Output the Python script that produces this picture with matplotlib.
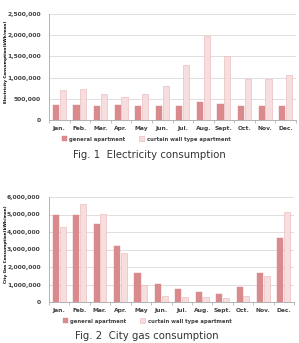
import numpy as np
import matplotlib.pyplot as plt
from matplotlib.ticker import FuncFormatter

months = ['Jan.', 'Feb.', 'Mar.', 'Apr.', 'May', 'Jun.', 'Jul.', 'Aug.', 'Sept.', 'Oct.', 'Nov.', 'Dec.']
series = ['general apartment', 'curtain wall type apartment']

elec_general = [360000, 360000, 340000, 345000, 320000, 330000, 340000, 420000, 370000, 320000, 340000, 340000]
elec_curtain = [700000, 720000, 610000, 540000, 610000, 810000, 1290000, 1990000, 1520000, 960000, 970000, 1050000]

gas_general = [4950000, 5000000, 4450000, 3200000, 1650000, 1020000, 750000, 550000, 480000, 870000, 1680000, 3630000]
gas_curtain = [4300000, 5600000, 5020000, 2780000, 960000, 350000, 300000, 290000, 250000, 370000, 1500000, 5130000]

c_gen = '#d98a8c'
c_cur = '#f7dede'
e_cur = '#e8b4b6'
grid_c = '#d9d9d9'
txt_c = '#404040'

W, H = 299, 343
fig = plt.figure(figsize=(W / 100, H / 100), dpi=100)


def draw(ax, gen, cur, ymax, step, ylabel, leg_xy, width_px):
    x = np.arange(len(months))
    w = 0.3
    ax.bar(x - 0.165, gen, w, color=c_gen, edgecolor=c_gen, linewidth=0.3, zorder=3, label=series[0])
    ax.bar(x + 0.165, cur, w, color=c_cur, edgecolor=e_cur, linewidth=0.4, zorder=3, label=series[1])
    ax.set_xlim(-0.5, len(months) - 0.5)
    ax.set_ylim(0, ymax)
    ax.set_yticks(np.arange(0, ymax + 1, step))
    ax.yaxis.set_major_formatter(FuncFormatter(lambda v, p: f'{int(v):,}'))
    ax.grid(axis='y', color=grid_c, linewidth=0.6, zorder=0)
    for s in ['top', 'right']:
        ax.spines[s].set_visible(False)
    for s in ['left', 'bottom']:
        ax.spines[s].set_color('#a6a6a6')
        ax.spines[s].set_linewidth(0.6)
    ax.set_xticks(x)
    ax.set_xticklabels(months)
    ax.set_xticks(np.arange(-0.5, len(months), 1), minor=True)
    ax.tick_params(axis='x', which='major', length=0, pad=4)
    ax.tick_params(axis='x', which='minor', length=2, color='#a6a6a6', width=0.5)
    ax.tick_params(axis='y', length=0, pad=6)
    for lab in ax.get_xticklabels() + ax.get_yticklabels():
        lab.set_fontsize(4.3)
        lab.set_fontweight('bold')
        lab.set_color(txt_c)
    ax.set_ylabel(ylabel, fontsize=3.0, fontweight='bold', color='black', va='center')
    ax.yaxis.set_label_coords(-43 / width_px, 0.55)
    leg = ax.legend(loc='center left', bbox_to_anchor=leg_xy, bbox_transform=fig.transFigure,
                    ncol=2, frameon=False, prop={'size': 3.8, 'weight': 'bold'},
                    handlelength=0.9, handleheight=0.9, handletextpad=0.5,
                    columnspacing=2.6, borderpad=0, borderaxespad=0)
    for t in leg.get_texts():
        t.set_color(txt_c)


ax1 = fig.add_axes([49 / W, 1 - 120 / H, 247 / W, 106 / H])
draw(ax1, elec_general, elec_curtain, 2500000, 500000, 'Electricity Consumption(kWh/mon)',
     (62 / W, 1 - 139 / H), 247)

ax2 = fig.add_axes([49 / W, 1 - 302 / H, 245 / W, 105 / H])
draw(ax2, gas_general, gas_curtain, 6000000, 1000000, 'City Gas Consumption(kWh/mon)',
     (63 / W, 1 - 321 / H), 245)

fig.text(0.50, 1 - 155 / H, 'Fig. 1  Electricity consumption', ha='center', va='center',
         fontsize=7.3, color='#333333')
fig.text(0.49, 1 - 336 / H, 'Fig. 2  City gas consumption', ha='center', va='center',
         fontsize=7.3, color='#333333')

fig.savefig('out.png', dpi=100)
